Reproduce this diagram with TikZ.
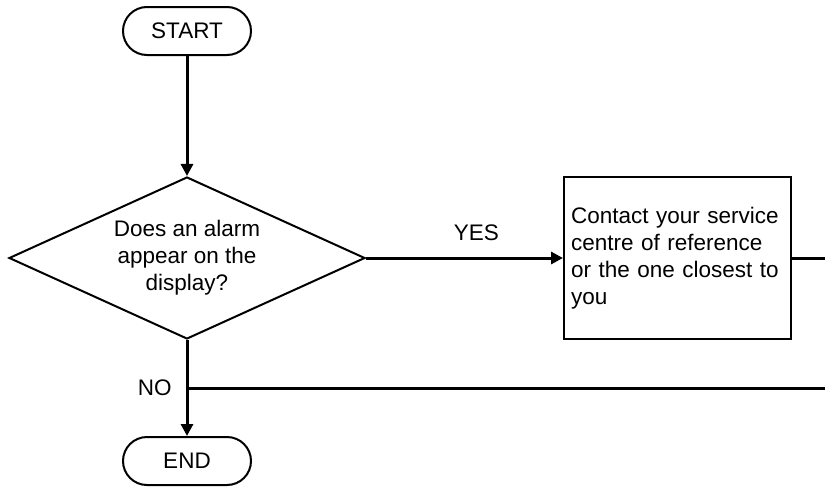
\documentclass[tikz,border=0pt]{standalone}
\usepackage{fontspec}
\setmainfont{Liberation Sans}
\usepackage{tikz}
\usetikzlibrary{arrows.meta, positioning, shapes.geometric}

\begin{document}
\begin{tikzpicture}[
    font=\fontsize{11.25pt}{13.5pt}\selectfont,
    terminal/.style={rectangle, rounded corners=12pt, draw, line width=1pt,
                minimum width=64pt, minimum height=24pt, align=center},
    decision/.style={diamond, draw, line width=1pt, aspect=2.2, inner sep=0pt,
                minimum width=178pt, minimum height=81pt, align=center},
    action/.style={rectangle, draw, line width=1pt, text width=106.5pt,
                inner xsep=3.5pt, minimum height=81pt, align=left},
    arr/.style={-{Triangle[length=6pt, width=6pt]}, line width=1.5pt},
    wire/.style={line width=1.5pt},
    tag/.style={inner sep=0pt},
]
\useasboundingbox (0,0) rectangle (412.5pt,-243.5pt);

% Nodes
\node[terminal] (start) at (93.5pt,-15.5pt) {START};
\node[decision, below=60pt of start] (alarm) {Does an alarm\\appear on the\\display?};
\node[action, right=98.5pt of alarm] (contact) {Contact your service\\centre of reference\\or the one closest to\\you};
\node[terminal, below=48pt of alarm] (finish) {END};

% Free ends
\coordinate (rim) at (412.5pt,-194pt);
\coordinate (nojoin) at (alarm.south |- rim);
\coordinate (contactout) at (contact.east -| rim);

% Arrows
\draw[arr] (start) -- (alarm);
\draw[arr] (alarm.east) -- (contact.west) node[tag, pos=0.56, above=8pt] {YES};
\draw[wire] (contact.east) -- (contactout);
\draw[arr] (alarm.south) -- (finish);
\draw[wire] (nojoin) -- (rim);
\node[tag, left=7.5pt of nojoin] (no) {NO};

\end{tikzpicture}
\end{document}
